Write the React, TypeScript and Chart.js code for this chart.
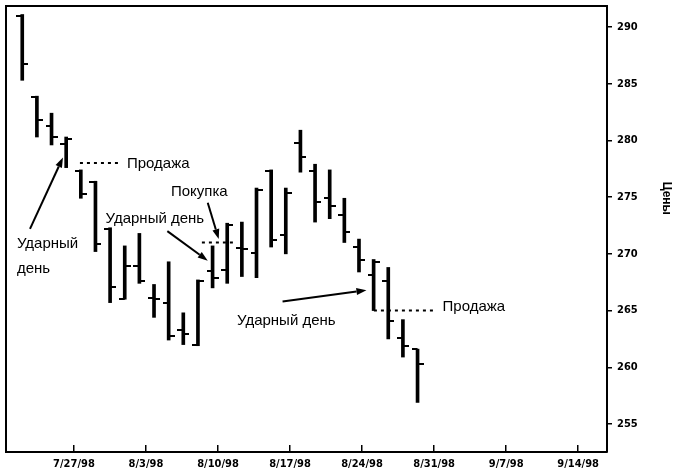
import React, { useEffect, useRef } from 'react';
import { Chart, registerables } from 'chart.js';

Chart.register(...registerables);

// Trading-day index of each bar
const dayIndex = [0, 1, 2, 3, 4, 5, 6, 7, 8, 9, 10, 11, 12, 13, 14, 15, 16, 17, 18, 19, 20, 21, 22, 23, 24, 25, 26, 27];
const openPrices = [291.0, 283.8, 281.3, 279.7, 277.3, 276.3, 272.2, 266.0, 268.9, 266.1, 265.7, 263.3, 262.0, 268.5, 268.6, 270.5, 270.1, 277.3, 271.7, 279.8, 277.3, 274.9, 273.4, 270.6, 268.1, 267.6, 262.6, 261.6];
const highPrices = [291.1, 283.9, 282.4, 280.3, 277.4, 276.4, 272.3, 270.7, 271.8, 267.3, 269.3, 264.8, 267.7, 270.7, 272.7, 272.8, 275.8, 277.4, 275.8, 280.9, 277.9, 277.4, 274.9, 271.3, 269.5, 268.8, 264.2, 261.6];
const lowPrices = [285.3, 280.3, 279.6, 277.6, 274.9, 270.2, 265.7, 266.0, 267.4, 264.4, 262.4, 262.0, 261.9, 267.0, 267.4, 268.0, 267.9, 270.6, 270.0, 277.2, 272.8, 273.1, 271.0, 268.4, 265.0, 262.5, 260.9, 256.9];
const closePrices = [286.7, 281.8, 280.3, 280.1, 275.3, 270.9, 267.1, 268.9, 267.6, 266.0, 262.8, 262.9, 267.6, 267.9, 272.5, 270.4, 275.6, 271.2, 275.4, 278.5, 274.6, 274.2, 271.9, 269.5, 269.3, 264.1, 261.9, 260.3];

// Week boundaries (in trading-day units) and their labels
const weekTickPositions = [3.53, 8.45, 13.37, 18.29, 23.21, 28.13, 33.05, 37.97];
const weekLabels = ['7/27/98', '8/3/98', '8/10/98', '8/17/98', '8/24/98', '8/31/98', '9/7/98', '9/14/98'];
const priceTicks = [255, 260, 265, 270, 275, 280, 285, 290];
const axisTitle = 'Цены';
const axisTitleValue = 274.9; // vertical centre of the axis title, in price units

// Annotations in data coordinates
const noteTexts = ['Продажа', 'Ударный', 'день', 'Покупка', 'Ударный день', 'Ударный день', 'Продажа'];
const noteX = [7.15, -0.36, -0.36, 10.16, 5.69, 14.67, 28.71];
const noteY = [277.9, 270.9, 268.7, 275.5, 273.1, 264.1, 265.3];

const arrowFromX = [0.53, 12.67, 9.91, 17.78];
const arrowFromY = [272.2, 274.5, 272.0, 265.8];
const arrowToX = [2.78, 13.42, 12.67, 23.51];
const arrowToY = [278.5, 271.3, 269.4, 266.8];

const levelFromX = [3.94, 12.27, 24.02];
const levelToX = [6.75, 14.53, 28.19];
const levelY = [278.0, 271.0, 265.0];

const X_MIN = -1.11;
const X_MAX = 39.94;
const Y_MIN = 252.53;
const Y_MAX = 291.85;

function makeTick(side: 'left' | 'right'): HTMLCanvasElement {
  const c = document.createElement('canvas');
  c.width = 12;
  c.height = 2;
  const g = c.getContext('2d')!;
  g.fillStyle = '#000';
  if (side === 'left') g.fillRect(0, 0, 6, 2);
  else g.fillRect(6, 0, 6, 2);
  return c;
}

const annotationPlugin = {
  id: 'annotations',
  afterDatasetsDraw(chart: any) {
    const { ctx, chartArea, scales } = chart;
    const xs = scales.x;
    const ys = scales.y;
    ctx.save();
    // frame: top and left
    ctx.strokeStyle = '#000';
    ctx.lineWidth = 2;
    ctx.beginPath();
    ctx.moveTo(chartArea.left, chartArea.bottom);
    ctx.lineTo(chartArea.left, chartArea.top);
    ctx.lineTo(chartArea.right, chartArea.top);
    ctx.stroke();

    // level lines
    ctx.lineWidth = 2;
    ctx.setLineDash([3, 4]);
    for (let i = 0; i < levelY.length; i++) {
      const y = ys.getPixelForValue(levelY[i]);
      ctx.beginPath();
      ctx.moveTo(xs.getPixelForValue(levelFromX[i]), y);
      ctx.lineTo(xs.getPixelForValue(levelToX[i]), y);
      ctx.stroke();
    }
    ctx.setLineDash([]);

    // arrows
    for (let i = 0; i < arrowFromX.length; i++) {
      const x1 = xs.getPixelForValue(arrowFromX[i]);
      const y1 = ys.getPixelForValue(arrowFromY[i]);
      const x2 = xs.getPixelForValue(arrowToX[i]);
      const y2 = ys.getPixelForValue(arrowToY[i]);
      const ang = Math.atan2(y2 - y1, x2 - x1);
      const head = 10;
      const hw = 3.5;
      const bx = x2 - head * Math.cos(ang);
      const by = y2 - head * Math.sin(ang);
      ctx.lineWidth = 2;
      ctx.beginPath();
      ctx.moveTo(x1, y1);
      ctx.lineTo(bx, by);
      ctx.stroke();
      ctx.beginPath();
      ctx.moveTo(x2, y2);
      ctx.lineTo(bx + hw * Math.sin(ang), by - hw * Math.cos(ang));
      ctx.lineTo(bx - hw * Math.sin(ang), by + hw * Math.cos(ang));
      ctx.closePath();
      ctx.fillStyle = '#000';
      ctx.fill();
    }

    // texts
    ctx.fillStyle = '#000';
    ctx.font = '15px "Liberation Sans", Arial, sans-serif';
    ctx.textAlign = 'left';
    ctx.textBaseline = 'middle';
    for (let i = 0; i < noteTexts.length; i++) {
      ctx.fillText(noteTexts[i], xs.getPixelForValue(noteX[i]), ys.getPixelForValue(noteY[i]));
    }

    // axis title, rotated, to the right of the price labels
    ctx.save();
    ctx.translate(ys.right - 17, ys.getPixelForValue(axisTitleValue));
    ctx.rotate(Math.PI / 2);
    ctx.font = 'bold 12px "Liberation Sans", Arial, sans-serif';
    ctx.textAlign = 'center';
    ctx.textBaseline = 'middle';
    ctx.fillText(axisTitle, 0, 0);
    ctx.restore();

    ctx.restore();
  },
};

export default function App() {
  const ref = useRef<HTMLCanvasElement | null>(null);

  useEffect(() => {
    if (!ref.current) return;
    const leftTick = makeTick('left');
    const rightTick = makeTick('right');
    const tickFont = { family: '"Liberation Sans Narrow", "DejaVu Sans Condensed", sans-serif', size: 11, weight: 'bold' as const };

    const chart = new Chart(ref.current, {
      type: 'bar',
      data: {
        datasets: [
          {
            type: 'bar',
            data: dayIndex.map((d, i) => ({ x: d, y: [lowPrices[i], highPrices[i]] })) as any,
            backgroundColor: '#000',
            borderWidth: 0,
            barThickness: 3,
          } as any,
          {
            type: 'scatter',
            data: dayIndex.map((d, i) => ({ x: d, y: openPrices[i] })),
            pointStyle: leftTick,
            pointRadius: 3,
            showLine: false,
          } as any,
          {
            type: 'scatter',
            data: dayIndex.map((d, i) => ({ x: d, y: closePrices[i] })),
            pointStyle: rightTick,
            pointRadius: 3,
            showLine: false,
          } as any,
        ],
      },
      options: {
        animation: false,
        responsive: true,
        maintainAspectRatio: false,
        layout: { padding: { top: 6, left: 6, right: 0, bottom: 0 } },
        plugins: { legend: { display: false }, tooltip: { enabled: false } },
        scales: {
          x: {
            type: 'linear',
            position: 'bottom',
            offset: false,
            min: X_MIN,
            max: X_MAX,
            afterBuildTicks: (s: any) => {
              s.ticks = weekTickPositions.map((v) => ({ value: v }));
            },
            afterFit: (s: any) => {
              s.height = 23;
              s.paddingLeft = 0;
              s.paddingRight = 0;
            },
            grid: { display: true, offset: false, drawOnChartArea: false, drawTicks: true, tickLength: -7, color: '#000', lineWidth: 1.5 },
            border: { display: true, color: '#000', width: 2 },
            ticks: {
              autoSkip: false,
              maxRotation: 0,
              padding: 13,
              color: '#000',
              font: tickFont,
              callback: (_v: any, i: number) => weekLabels[i],
            },
          },
          y: {
            type: 'linear',
            position: 'right',
            min: Y_MIN,
            max: Y_MAX,
            afterBuildTicks: (s: any) => {
              s.ticks = priceTicks.map((v) => ({ value: v }));
            },
            afterFit: (s: any) => {
              s.width = 76;
              s.paddingTop = 0;
              s.paddingBottom = 0;
            },
            grid: { display: true, drawOnChartArea: false, drawTicks: true, tickLength: 5, color: '#000', lineWidth: 1.5 },
            border: { display: true, color: '#000', width: 2 },
            ticks: { padding: 5, color: '#000', font: tickFont, callback: (v: any) => String(v) },
            title: { display: false },
          },
        },
      } as any,
      plugins: [annotationPlugin],
    });
    return () => chart.destroy();
  }, []);

  return (
    <div style={{ position: 'fixed', left: 0, top: 0, width: 683, height: 475, background: '#fff' }}>
      <canvas ref={ref} />
    </div>
  );
}
